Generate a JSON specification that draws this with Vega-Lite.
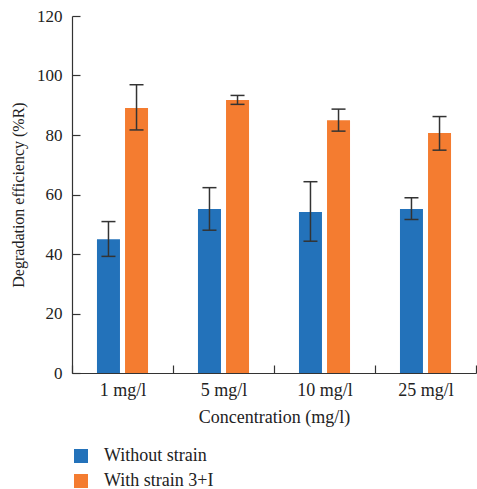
{
  "$schema": "https://vega.github.io/schema/vega-lite/v6.json",
  "width": 404,
  "height": 357,
  "autosize": "none",
  "padding": {"left": 72, "top": 16, "right": 1, "bottom": 116},
  "data": {"values": [
    {"conc": "1 mg/l", "group": "Without strain", "value": 45.0, "lo": 39.2, "hi": 50.9},
    {"conc": "1 mg/l", "group": "With strain 3+I", "value": 89.1, "lo": 81.7, "hi": 96.9},
    {"conc": "5 mg/l", "group": "Without strain", "value": 55.1, "lo": 48.0, "hi": 62.3},
    {"conc": "5 mg/l", "group": "With strain 3+I", "value": 91.8, "lo": 90.3, "hi": 93.3},
    {"conc": "10 mg/l", "group": "Without strain", "value": 54.1, "lo": 44.3, "hi": 64.3},
    {"conc": "10 mg/l", "group": "With strain 3+I", "value": 85.0, "lo": 81.3, "hi": 88.7},
    {"conc": "25 mg/l", "group": "Without strain", "value": 55.1, "lo": 51.6, "hi": 58.9},
    {"conc": "25 mg/l", "group": "With strain 3+I", "value": 80.7, "lo": 74.9, "hi": 86.2}
  ]},
  "config": {
    "font": "Liberation Serif",
    "view": {"stroke": null},
    "axis": {
      "grid": false,
      "domainColor": "#333333",
      "tickColor": "#333333",
      "labelColor": "#222222",
      "titleColor": "#222222",
      "labelFontSize": 18,
      "titleFontSize": 18,
      "titleFontWeight": "normal",
      "labelFont": "Liberation Serif",
      "titleFont": "Liberation Serif",
      "domainWidth": 1.2,
      "tickWidth": 1.2
    },
    "legend": {"labelFont": "Liberation Serif"}
  },
  "encoding": {
    "x": {
      "field": "conc",
      "type": "nominal",
      "sort": ["1 mg/l", "5 mg/l", "10 mg/l", "25 mg/l"],
      "scale": {"paddingInner": 0, "paddingOuter": 0},
      "axis": {
        "labelAngle": 0,
        "title": "Concentration (mg/l)",
        "tickBand": "extent",
        "tickSize": -8,
        "labelPadding": 16,
        "titlePadding": 9
      }
    },
    "xOffset": {
      "field": "group",
      "sort": ["Without strain", "With strain 3+I"],
      "scale": {"paddingInner": 0.18, "paddingOuter": 0.89}
    }
  },
  "layer": [
    {
      "mark": {"type": "bar"},
      "encoding": {
        "y": {
          "field": "value",
          "type": "quantitative",
          "scale": {"domain": [0, 120], "nice": false},
          "axis": {
            "values": [0, 20, 40, 60, 80, 100, 120],
            "title": "Degradation efficiency (%R)",
            "titleFontSize": 16,
            "labelFontSize": 17,
            "tickSize": -8,
            "labelPadding": 18,
            "titlePadding": 10
          }
        },
        "color": {
          "field": "group",
          "type": "nominal",
          "sort": ["Without strain", "With strain 3+I"],
          "scale": {"domain": ["Without strain", "With strain 3+I"], "range": ["#2372BA", "#F47C30"]},
          "legend": {
            "orient": "none",
            "legendX": 0,
            "legendY": 431,
            "title": null,
            "symbolType": "square",
            "symbolSize": 196,
            "symbolStrokeWidth": 0,
            "symbolOpacity": 1,
            "labelFontSize": 18,
            "labelColor": "#222222",
            "labelOffset": 14,
            "rowPadding": 7
          }
        }
      }
    },
    {
      "mark": {"type": "rule", "color": "#333333", "strokeWidth": 1.5},
      "encoding": {
        "y": {"field": "lo", "type": "quantitative"},
        "y2": {"field": "hi"}
      }
    },
    {
      "mark": {"type": "tick", "orient": "horizontal", "size": 14, "thickness": 1.5, "color": "#333333", "opacity": 1},
      "encoding": {"y": {"field": "lo", "type": "quantitative"}}
    },
    {
      "mark": {"type": "tick", "orient": "horizontal", "size": 14, "thickness": 1.5, "color": "#333333", "opacity": 1},
      "encoding": {"y": {"field": "hi", "type": "quantitative"}}
    }
  ]
}
